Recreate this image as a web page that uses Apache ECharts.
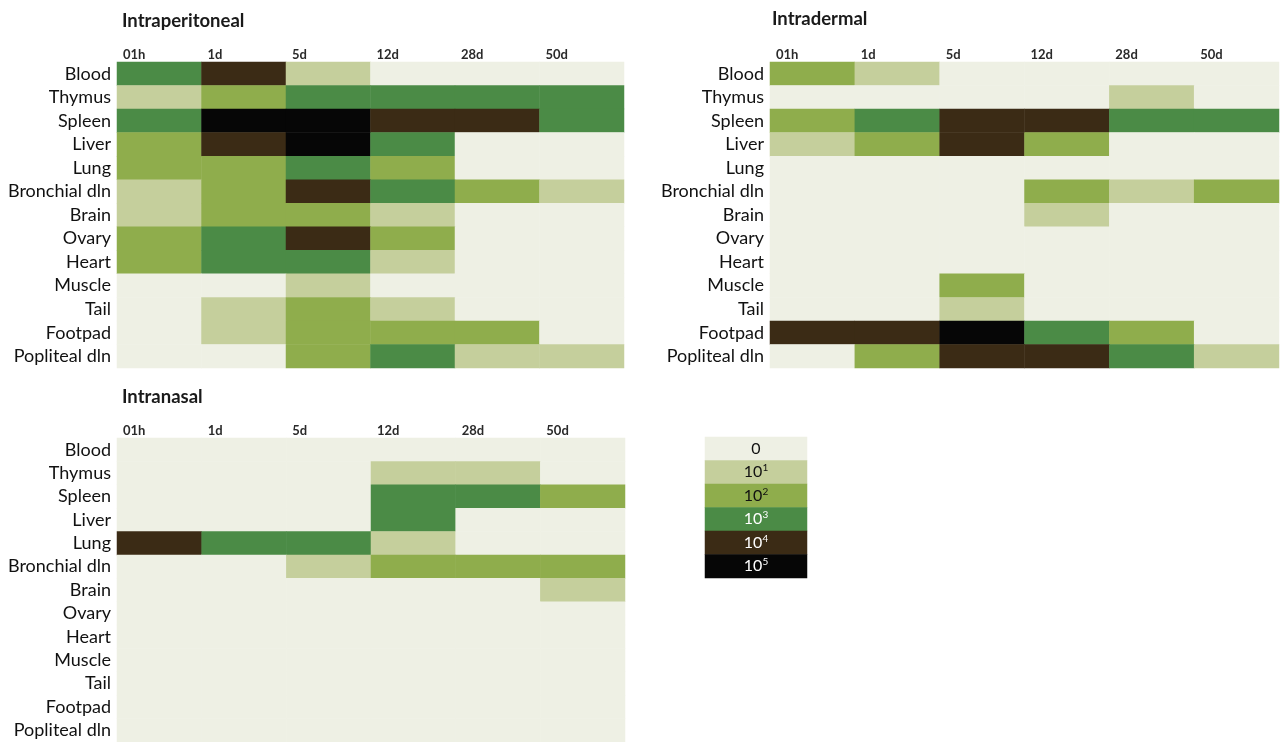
<!DOCTYPE html>
<html><head><meta charset="utf-8">
<script src="https://cdn.jsdelivr.net/npm/echarts@6/dist/echarts.min.js"></script>
<style>html,body{margin:0;padding:0;background:#fff}#c{width:1282px;height:742px}</style>
</head><body><div id="c"></div>
<script>
// ---- data ----
const times = ['01h', '1d', '5d', '12d', '28d', '50d'];
const tissues = ['Blood', 'Thymus', 'Spleen', 'Liver', 'Lung', 'Bronchial dln', 'Brain', 'Ovary', 'Heart', 'Muscle', 'Tail', 'Footpad', 'Popliteal dln'];
// levels: 0 = 0, 1 = 10^1, ... 5 = 10^5
const intraperitoneal = [
  [3, 4, 1, 0, 0, 0],
  [1, 2, 3, 3, 3, 3],
  [3, 5, 5, 4, 4, 3],
  [2, 4, 5, 3, 0, 0],
  [2, 2, 3, 2, 0, 0],
  [1, 2, 4, 3, 2, 1],
  [1, 2, 2, 1, 0, 0],
  [2, 3, 4, 2, 0, 0],
  [2, 3, 3, 1, 0, 0],
  [0, 0, 1, 0, 0, 0],
  [0, 1, 2, 1, 0, 0],
  [0, 1, 2, 2, 2, 0],
  [0, 0, 2, 3, 1, 1]
];
const intradermal = [
  [2, 1, 0, 0, 0, 0],
  [0, 0, 0, 0, 1, 0],
  [2, 3, 4, 4, 3, 3],
  [1, 2, 4, 2, 0, 0],
  [0, 0, 0, 0, 0, 0],
  [0, 0, 0, 2, 1, 2],
  [0, 0, 0, 1, 0, 0],
  [0, 0, 0, 0, 0, 0],
  [0, 0, 0, 0, 0, 0],
  [0, 0, 2, 0, 0, 0],
  [0, 0, 1, 0, 0, 0],
  [4, 4, 5, 3, 2, 0],
  [0, 2, 4, 4, 3, 1]
];
const intranasal = [
  [0, 0, 0, 0, 0, 0],
  [0, 0, 0, 1, 1, 0],
  [0, 0, 0, 3, 3, 2],
  [0, 0, 0, 3, 0, 0],
  [4, 3, 3, 1, 0, 0],
  [0, 0, 1, 2, 2, 2],
  [0, 0, 0, 0, 0, 1],
  [0, 0, 0, 0, 0, 0],
  [0, 0, 0, 0, 0, 0],
  [0, 0, 0, 0, 0, 0],
  [0, 0, 0, 0, 0, 0],
  [0, 0, 0, 0, 0, 0],
  [0, 0, 0, 0, 0, 0]
];
const panelTitles = ['Intraperitoneal', 'Intradermal', 'Intranasal'];
const levels = [0, 1, 2, 3, 4, 5];
const levelBase = ['0', '10', '10', '10', '10', '10'];
const levelExp = ['', '1', '2', '3', '4', '5'];

// ---- styles ----
const levelColors = ['#eef0e4', '#c5cf9c', '#8fad4c', '#4b8b46', '#3b2b15', '#060606'];
const FONT = 'Lato';
const panels = [
  { data: intraperitoneal, grid: { left: 117, top: 62, width: 507, height: 306 }, title: { left: 122, top: 12 } },
  { data: intradermal, grid: { left: 770, top: 62, width: 514, height: 306 }, title: { left: 772, top: 10 } },
  { data: intranasal, grid: { left: 117, top: 438, width: 508, height: 306 }, title: { left: 122, top: 388 } }
];

const grid = [], xAxis = [], yAxis = [], series = [], title = [];
panels.forEach((p, i) => {
  grid.push(p.grid);
  title.push({ text: panelTitles[i], left: p.title.left, top: p.title.top, padding: 0,
    textStyle: { fontFamily: FONT, fontWeight: 'bold', fontSize: 18.5, color: '#1a1a1a' } });
  // heatmap axis
  xAxis.push({ type: 'category', gridIndex: i, data: times, position: 'top',
    axisLine: { show: false }, axisTick: { show: false }, axisLabel: { show: false }, splitLine: { show: false } });
  // label-only axis: labels at left edge of each column
  xAxis.push({ type: 'category', gridIndex: i, data: times.concat(['']), position: 'top', boundaryGap: false,
    axisLine: { show: false }, axisTick: { show: false }, splitLine: { show: false },
    axisLabel: { interval: 0, align: 'left', margin: 1, fontFamily: FONT, fontWeight: 'bold', fontSize: 13, color: '#2a2a2a', padding: [0, 0, 0, 6] } });
  yAxis.push({ type: 'category', gridIndex: i, data: tissues, inverse: true,
    axisLine: { show: false }, axisTick: { show: false }, splitLine: { show: false },
    axisLabel: { interval: 0, margin: 6, fontFamily: FONT, fontSize: 18, color: '#111' } });
  const d = [];
  p.data.forEach((row, r) => row.forEach((v, c) => d.push([c, r, v])));
  series.push({ type: 'heatmap', xAxisIndex: i * 2, yAxisIndex: i, data: d,
    itemStyle: { borderWidth: 0 }, emphasis: { disabled: true } });
});

// legend as a one-column heatmap
grid.push({ left: 705, top: 437, width: 102, height: 141 });
xAxis.push({ type: 'category', gridIndex: 3, data: [''], show: false });
yAxis.push({ type: 'category', gridIndex: 3, data: levelBase.map((b, k) => b + levelExp[k]), inverse: true, show: false });
series.push({ type: 'heatmap', xAxisIndex: 6, yAxisIndex: 3,
  data: levels.map((v, k) => [0, k, v]),
  emphasis: { disabled: true },
  label: { show: true,
    formatter: (prm) => {
      const k = prm.data[1];
      const dark = k < 3;
      return levelExp[k] ? `{${dark ? 'd' : 'w'}|${levelBase[k]}}{${dark ? 'ds' : 'ws'}|${levelExp[k]}}` : `{d|${levelBase[k]}}`;
    },
    rich: {
      d: { fontFamily: FONT, fontSize: 16, color: '#111' },
      w: { fontFamily: FONT, fontSize: 16, color: '#fff' },
      ds: { fontFamily: FONT, fontSize: 10, color: '#111', padding: [0, 0, 8, 0] },
      ws: { fontFamily: FONT, fontSize: 10, color: '#fff', padding: [0, 0, 8, 0] }
    }
  }
});

const chart = echarts.init(document.getElementById('c'), null, { renderer: 'canvas' });
chart.setOption({
  animation: false,
  backgroundColor: '#ffffff',
  title, grid, xAxis, yAxis, series,
  visualMap: {
    type: 'piecewise', show: false,
    pieces: levels.map((v, k) => ({ value: v, color: levelColors[k] })),
    seriesIndex: [0, 1, 2, 3]
  }
});
</script></body></html>
